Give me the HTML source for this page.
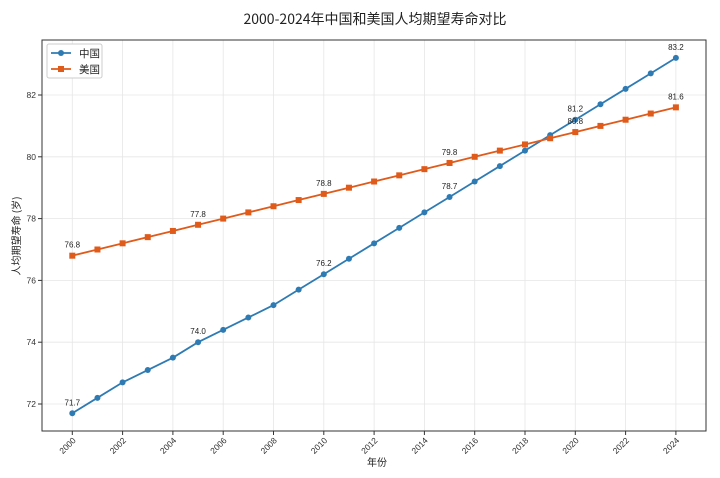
<!DOCTYPE html>
<html><head><meta charset="utf-8">
<style>
html,body{margin:0;padding:0;background:#fff;}
svg{display:block;font-family:"Liberation Sans","Noto Sans CJK SC",sans-serif;}
</style></head>
<body>
<svg id="chart" width="720" height="478" viewBox="0 0 720 478">
<text x="375" y="24" text-anchor="middle" font-size="14" fill="#222" font-family="'Noto Sans CJK SC',sans-serif">2000-2024年中国和美国人均期望寿命对比</text>
<g id="grid"></g>
<g id="axes"></g>
<g id="series"></g>
<rect x="42" y="40" width="664" height="391" fill="none" stroke="#333" stroke-width="1"/>
<text x="377" y="466" text-anchor="middle" font-size="10" fill="#222" font-family="'Noto Sans CJK SC',sans-serif">年份</text>
<text transform="translate(20,236) rotate(-90)" text-anchor="middle" font-size="10" fill="#222" font-family="'Noto Sans CJK SC',sans-serif">人均期望寿命 (岁)</text>
<g>
<rect x="47" y="44" width="55" height="34" rx="2" fill="#fff" stroke="#ccc"/>
<line x1="51" y1="53" x2="71" y2="53" stroke="#2e7bb4" stroke-width="1.8"/>
<circle cx="61" cy="53" r="3" fill="#2e7bb4"/>
<text x="79" y="57" font-size="10.5" fill="#222" font-family="'Noto Sans CJK SC',sans-serif">中国</text>
<line x1="51" y1="69" x2="71" y2="69" stroke="#e05a1a" stroke-width="1.8"/>
<rect x="58" y="66" width="6" height="6" fill="#e05a1a"/>
<text x="79" y="73" font-size="10.5" fill="#222" font-family="'Noto Sans CJK SC',sans-serif">美国</text>
</g>
</svg>
<script>
const years=[2000,2001,2002,2003,2004,2005,2006,2007,2008,2009,2010,2011,2012,2013,2014,2015,2016,2017,2018,2019,2020,2021,2022,2023,2024];
const chinaValues=[71.7,72.2,72.7,73.1,73.5,74.0,74.4,74.8,75.2,75.7,76.2,76.7,77.2,77.7,78.2,78.7,79.2,79.7,80.2,80.7,81.2,81.7,82.2,82.7,83.2];
const usValues=[76.8,77.0,77.2,77.4,77.6,77.8,78.0,78.2,78.4,78.6,78.8,79.0,79.2,79.4,79.6,79.8,80.0,80.2,80.4,80.6,80.8,81.0,81.2,81.4,81.6];
const xTicks=[2000,2002,2004,2006,2008,2010,2012,2014,2016,2018,2020,2022,2024];
const yTicks=[72,74,76,78,80,82];
const NS="http://www.w3.org/2000/svg";
function xs(v){return 72.3+(v-2000)*25.15;}
function ys(v){return 404-(v-72)*30.9;}
function mk(tag,attrs,parent){const e=document.createElementNS(NS,tag);for(const k in attrs)e.setAttribute(k,attrs[k]);parent.appendChild(e);return e;}
const grid=document.getElementById('grid'),axes=document.getElementById('axes'),series=document.getElementById('series');
xTicks.forEach(t=>{
 const g=mk('line',{x1:xs(t),x2:xs(t),y1:40,y2:431,stroke:'#e6e6e6','stroke-width':0.8},grid);
 
 
 mk('line',{x1:xs(t),x2:xs(t),y1:431,y2:435,stroke:'#333'},axes);
 const tx=mk('text',{x:xs(t)+4,y:441,'font-size':8.5,fill:'#333','text-anchor':'end',transform:`rotate(-45 ${xs(t)+4} 441)`},axes);
 tx.textContent=t;
 
 
});
yTicks.forEach(t=>{
 const g=mk('line',{x1:42,x2:706,y1:ys(t),y2:ys(t),stroke:'#e6e6e6','stroke-width':0.8},grid);
 
 
 mk('line',{x1:38,x2:42,y1:ys(t),y2:ys(t),stroke:'#333'},axes);
 const tx=mk('text',{x:36,y:ys(t)+3,'font-size':8.5,fill:'#333','text-anchor':'end'},axes);
 tx.textContent=t;
 
 
});
function drawSeries(vals,color,shape,name){
 const pts=vals.map((v,i)=>xs(years[i])+','+ys(v)).join(' ');
 const pl=mk('polyline',{points:pts,fill:'none',stroke:color,'stroke-width':1.8},series);
 
 
 vals.forEach((v,i)=>{
  const x=xs(years[i]),y=ys(v);let m;
  if(shape==='c')m=mk('circle',{cx:x,cy:y,r:3,fill:color},series);
  else m=mk('rect',{x:x-3,y:y-3,width:6,height:6,fill:color},series);
  
  
  if(i%5===0||i===vals.length-1){
   const t=mk('text',{x:x,y:y-8,'font-size':8,fill:'#222','text-anchor':'middle'},series);
   t.textContent=v.toFixed(1);
   
   
  }
 });
}
drawSeries(chinaValues,'#2e7bb4','c','china');
drawSeries(usValues,'#e05a1a','s','us');
</script>
</body></html>
